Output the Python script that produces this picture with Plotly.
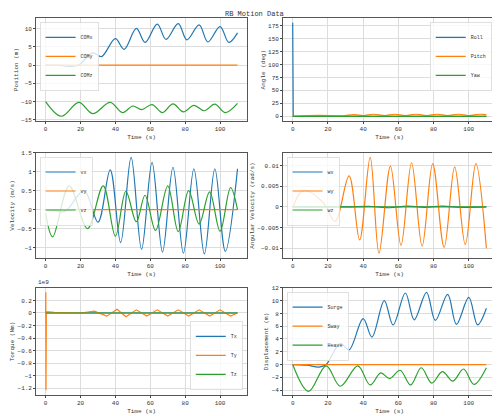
import plotly.graph_objects as go

BLUE, ORANGE, GREEN = "#1f77b4", "#ff7f0e", "#2ca02c"
FONT = "Liberation Mono"

# position / displacement (surge == COMx)
surge_t = [0, 8, 15, 19, 27, 32, 40, 45, 52, 57, 64, 69, 76, 81, 88, 93, 100, 105, 110]
surge_v = [0, -0.1, -0.4, 0, 3.3, 2.3, 7.2, 4.3, 10, 6.2, 11.2, 7, 11.3, 6.9, 11, 6.3, 10.5, 6.2, 8.8]
heave_t = [0, 9, 19, 27, 37, 44, 50, 55, 61, 67, 73, 79, 85, 91, 97, 103, 110]
heave_v = [0, -4.2, -0.2, -3.4, -0.2, -3.2, -1.3, -2.2, -0.9, -3.2, -0.5, -2.9, -1.1, -2.6, -0.7, -3.1, -0.5]
comz_v = [-10, -14, -10.2, -13.3, -10.2, -13, -11.2, -12.2, -10.8, -13, -10.6, -12.8, -11, -12.5, -10.7, -13, -10.5]
flat_t = [0, 110]
flat_v = [0, 0]

# angles
roll_t = [0, 0.3, 110]
roll_v = [180, 0, 0]
pitch_t = [0, 15, 28, 35, 40, 46, 52, 58, 64, 70, 76, 82, 88, 94, 100, 106, 110]
pitch_v = [0, 2, 1, 3.5, 1.5, 4, 1.5, 4, 1.5, 4, 1.5, 4, 1.5, 4, 1.5, 4, 3.5]

# velocity
vx_t = [0, 5, 11, 22, 30, 37, 43, 49, 55, 61, 67, 73, 79, 85, 91, 97, 103, 110]
vx_v = [0, -0.02, -0.05, 0.5, -0.33, 1.05, -0.87, 1.38, -1.05, 1.25, -1.12, 1.12, -1.15, 1.08, -1.17, 1.08, -1.1, 1.08]
vz_t = [0, 4, 13.5, 24, 33, 40, 46, 52, 57, 63, 70, 76, 82, 88, 94, 100, 106, 110]
vz_v = [-0.1, -0.72, 0.63, -0.5, 0.63, -0.7, 0.48, -0.32, 0.38, -0.55, 0.63, -0.58, 0.5, -0.38, 0.47, -0.57, 0.58, 0]

# angular velocity
wy_t = [0, 6, 17, 24, 32, 38, 44, 49, 55.5, 61.5, 67.5, 73.5, 79.5, 86, 92, 98, 104, 110]
wy_v = [-0.0003, 0.004, 0.0012, -0.0035, 0.0075, -0.008, 0.012, -0.0112, 0.0099, -0.0093,
        0.0107, -0.0095, 0.0105, -0.0098, 0.0097, -0.0091, 0.0105, -0.01]
wx_t = [0, 30, 45, 55, 65, 75, 85, 95, 110]
wx_v = [0, 0, 0.0001, -0.0002, 0.0002, -0.0001, 0.0002, -0.0001, 0]

# torque (x1e9)
ty_t = [0, 0.1, 0.2, 0.4, 5, 20, 28, 35, 41, 46, 52, 58, 64, 70, 76, 82, 88, 94, 100, 106, 110]
ty_v = [0, 0.33, -1.23, 0.02, 0.01, 0, 0.03, -0.05, 0.06, -0.06, 0.05, -0.05, 0.05, -0.05,
        0.05, -0.05, 0.05, -0.05, 0.05, -0.05, 0]

panels = [
    # (xaxis, yaxis, legend, traces, ylabel, yticks, yrange, legend pos)
    ("x", "y", "legend", [("COMx", surge_t, surge_v, BLUE), ("COMy", flat_t, flat_v, ORANGE),
                           ("COMz", heave_t, comz_v, GREEN)],
     "Position (m)", [-15, -10, -5, 0, 5, 10], [-15.3, 12.8], "ul"),
    ("x2", "y2", "legend2", [("Roll", roll_t, roll_v, BLUE), ("Pitch", pitch_t, pitch_v, ORANGE),
                              ("Yaw", flat_t, flat_v, GREEN)],
     "Angle (deg)", [0, 25, 50, 75, 100, 125, 150, 175], [-9, 189], "ur"),
    ("x3", "y3", "legend3", [("vx", vx_t, vx_v, BLUE), ("vy", flat_t, flat_v, ORANGE),
                              ("vz", vz_t, vz_v, GREEN)],
     "Velocity (m/s)", [-1.0, -0.5, 0, 0.5, 1.0, 1.5], [-1.28, 1.5], "ul"),
    ("x4", "y4", "legend4", [("wx", wx_t, wx_v, BLUE), ("wy", wy_t, wy_v, ORANGE),
                              ("wz", flat_t, flat_v, GREEN)],
     "Angular Velocity (rad/s)", [-0.01, -0.005, 0, 0.005, 0.01], [-0.0124, 0.0131], "ul"),
    ("x5", "y5", "legend5", [("Tx", flat_t, flat_v, BLUE), ("Ty", ty_t, ty_v, ORANGE),
                              ("Tz", flat_t, flat_v, GREEN)],
     "Torque (Nm)", [-1.2, -1.0, -0.8, -0.6, -0.4, -0.2, 0, 0.2], [-1.31, 0.4], "lr"),
    ("x6", "y6", "legend6", [("Surge", surge_t, surge_v, BLUE), ("Sway", flat_t, flat_v, ORANGE),
                              ("Heave", heave_t, heave_v, GREEN)],
     "Displacement (m)", [-4, -2, 0, 2, 4, 6, 8, 10, 12], [-4.8, 12], "ul"),
]

# page body has an 8px margin, so the figure is 492x408
xdom = [[0.057, 0.486], [0.559, 0.992]]
ydom = [[0.723, 0.975], [0.387, 0.645], [0.051, 0.314]]

fig = go.Figure()
layout = dict(
    width=492, height=408, margin=dict(l=0, r=0, t=0, b=0, autoexpand=False),
    paper_bgcolor="white", plot_bgcolor="white",
    font=dict(family=FONT, size=6, color="#333"),
    showlegend=True,
)
for i, (xa, ya, lg, traces, ylabel, yt, yr, pos) in enumerate(panels):
    r, c = divmod(i, 2)
    sfx = "" if i == 0 else str(i + 1)
    for name, t, v, col in traces:
        shape = "linear" if name in ("Roll", "Ty") else "spline"
        fig.add_trace(go.Scatter(x=t, y=v, name=name, mode="lines", xaxis=xa, yaxis=ya, legend=lg,
                                 line=dict(color=col, width=1.2, shape=shape, smoothing=1.0)))
    ax = dict(showline=True, linecolor="#555", linewidth=0.8, mirror=True, showgrid=True,
              gridcolor="#ddd", gridwidth=0.8, ticks="outside", ticklen=2, zeroline=False,
              automargin=False)
    layout["xaxis" + sfx] = dict(ax, domain=xdom[c], anchor="y" + sfx, range=[-5.5, 115.5],
                                 tickvals=[0, 20, 40, 60, 80, 100],
                                 title=dict(text="Time (s)", standoff=2, font=dict(size=6)))
    layout["yaxis" + sfx] = dict(ax, domain=ydom[r], anchor="x" + sfx, range=yr, tickvals=yt,
                                 title=dict(text=ylabel, standoff=2, font=dict(size=6)))
    yd = ydom[r]
    xd = xdom[c]
    if pos == "ul":
        lx, ly, xan, yan = xd[0] + 0.008, yd[1] - 0.01, "left", "top"
    elif pos == "ur":
        lx, ly, xan, yan = xd[1] - 0.008, yd[1] - 0.01, "right", "top"
    else:
        lx, ly, xan, yan = xd[1] - 0.008, yd[0] + 0.012, "right", "bottom"
    layout[lg] = dict(x=lx, y=ly, xanchor=xan, yanchor=yan, bgcolor="rgba(255,255,255,0.8)",
                      bordercolor="#ccc", borderwidth=0.6, font=dict(size=5, family=FONT),
                      tracegroupgap=0, itemwidth=30)

layout["annotations"] = [
    dict(text="RB Motion Data", xref="paper", yref="paper", x=0.5, y=1.0, xanchor="center",
         yanchor="top", showarrow=False, font=dict(size=7)),
    dict(text="1e9", xref="paper", yref="paper", x=xdom[0][0], y=ydom[2][1],
         xanchor="left", yanchor="bottom", showarrow=False, font=dict(size=6)),
]
fig.update_layout(**layout)
fig.write_html("out.html")
